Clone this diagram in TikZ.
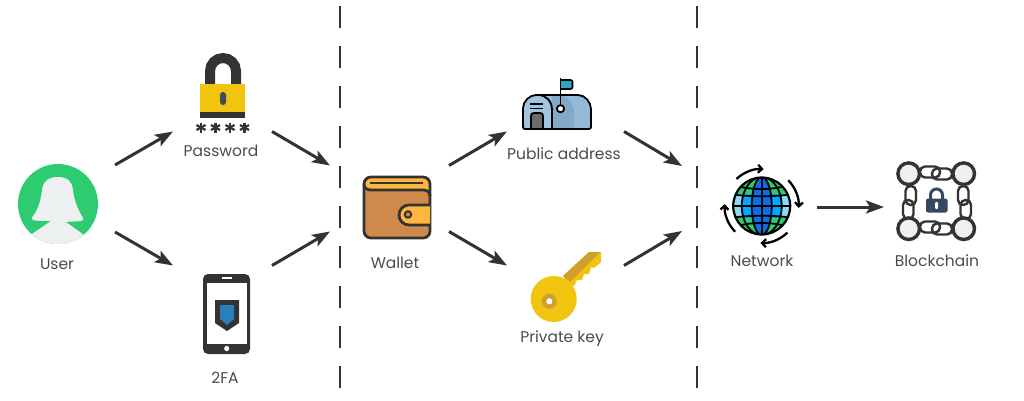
\documentclass[tikz,border=0pt]{standalone}
\usepackage{fontspec}
\setmainfont{Poppins}
\usetikzlibrary{arrows.meta}
\definecolor{ink}{HTML}{333333}
\definecolor{labelgrey}{HTML}{4A4A4A}
\definecolor{paleface}{HTML}{ECF0F1}
\definecolor{usergreen}{HTML}{2ECC71}
\definecolor{lockyellow}{HTML}{F1C40F}
\definecolor{keyhole}{HTML}{3D4A5C}
\definecolor{shieldblue}{HTML}{2980B9}
\definecolor{walletbrown}{HTML}{CF8A4B}
\definecolor{walletflap}{HTML}{FDB73E}
\definecolor{boxfront}{HTML}{9FC6DE}
\definecolor{boxside}{HTML}{93BAD6}
\definecolor{boxshade}{HTML}{84A9C6}
\definecolor{flagblue}{HTML}{2AA6C4}
\definecolor{keydark}{HTML}{CFA02E}
\definecolor{seablue}{HTML}{00A8FF}
\definecolor{deepblue}{HTML}{0A6EE8}
\definecolor{iceblue}{HTML}{8FD9F5}
\definecolor{chainblue}{HTML}{34495E}
\tikzset{
  flow/.style={line width=3pt,ink,-{Stealth[length=18pt,width=13pt,inset=4pt]}},
  divider/.style={line width=2pt,ink,dash pattern=on 22pt off 18pt},
  caption/.style={text=labelgrey,font=\fontsize{15.5}{17}\selectfont,inner sep=0pt},
  iconbox/.style={inner sep=0pt,outer sep=0pt,minimum width=#1},
  orbit/.style={line width=2.3pt,black,-{Straight Barb[length=4pt,width=8pt]}},
  link/.style={line width=2.4pt,ink,rounded corners=5pt},
}
\begin{document}
\begin{tikzpicture}[x=1pt,y=-1pt]
  \useasboundingbox (0,0) rectangle (1024,400);

  % Draw user
  \fill[usergreen] (58,204) circle (40pt);
  \begin{scope}
    \clip (58,204) circle (40pt);
    \fill[paleface] (51,221) .. controls (44,221) and (36,221) .. (33,220)
      .. controls (31,219) and (31,218) .. (33,216)
      .. controls (38,210) and (41,200) .. (42,190)
      .. controls (43,181) and (49,177) .. (58,177)
      .. controls (67,177) and (72,181) .. (73,190)
      .. controls (74,200) and (78,210) .. (82,216)
      .. controls (84,218) and (84,220) .. (81,221)
      .. controls (77,222) and (70,221) .. (66,222)
      -- (84,235) -- (84,250) -- (30,250) -- (32,234) -- cycle;
  \end{scope}

  % Draw lock
  \draw[line width=10pt,ink] (210,86) -- (210,71) arc[start angle=180,end angle=0,radius=13pt] -- (236,86);
  \fill[lockyellow] (200,84) rectangle (245,112);
  \fill[ink] (200,112) rectangle (245,118);
  \fill[keyhole,rounded corners=3pt] (220,92) rectangle (226,105);
  \foreach \x in {201,215.5,230,244.5}{
    \draw[line width=2.2pt,ink] (\x,122.5) -- (\x,132.5);
    \draw[line width=2.2pt,ink] (\x-4.5,125) -- (\x+4.5,130);
    \draw[line width=2.2pt,ink] (\x-4.5,130) -- (\x+4.5,125);
  }

  % Draw phone
  \fill[ink,rounded corners=5pt] (203,274) rectangle (250,354);
  \fill[white] (207,283) rectangle (247,344);
  \draw[white,line width=1.2pt] (222,278) -- (232,278);
  \fill[white] (226.7,348.5) circle (2.6pt);
  \fill[ink] (215,300) -- (239,300) -- (239,323) -- (227,331) -- (215,323) -- cycle;
  \fill[shieldblue] (220,305) -- (234,305) -- (234,319) -- (227,325) -- (220,319) -- cycle;

  % Draw wallet
  \fill[walletbrown,rounded corners=7pt] (364,177) rectangle (430,238);
  \fill[walletflap,rounded corners=6pt] (364,177) -- (430,177) -- (430,194) -- (364,194) -- cycle;
  \fill[walletbrown] (366,190) -- (424,190) .. controls (428,190) and (430,193) .. (430,197) -- (430,225) -- (366,225) -- cycle;
  \draw[line width=2.8pt,ink,rounded corners=7pt] (364,177) rectangle (430,238);
  \draw[line width=2.8pt,ink] (364,184) .. controls (364,188) and (367,190) .. (371,190) -- (423,190) .. controls (427,190) and (430,192) .. (430,196);
  \draw[line width=2.8pt,ink] (370,183) -- (423,183);
  \draw[line width=2.8pt,ink,fill=walletflap] (430,205) -- (409,205) arc[start angle=90,end angle=270,radius=10pt] -- (430,225);
  \draw[line width=2pt,ink,fill=walletbrown] (408,214.5) circle (3.2pt);

  % Draw mailbox
  \fill[boxside,rounded corners=2pt] (523,129) -- (523,110) .. controls (523,101) and (530,95) .. (538,95) -- (576,95)
    .. controls (585,95) and (591,102) .. (591,111) -- (591,129) -- cycle;
  \fill[boxshade] (552,129) -- (552,95) -- (562,95) .. controls (570,99) and (574,105) .. (574,113) -- (574,129) -- cycle;
  \fill[boxfront] (523,129) -- (523,110) .. controls (523,101) and (530,95) .. (538,95) .. controls (546,95) and (552,101) .. (552,110) -- (552,129) -- cycle;
  \fill[gray!85!black] (531,129) -- (531,116) .. controls (531,114) and (532,113) .. (534,113) -- (540,113) .. controls (542,113) and (543,114) .. (543,116) -- (543,129) -- cycle;
  \draw[line width=1.8pt,black,rounded corners=2pt] (523,129) -- (523,110) .. controls (523,101) and (530,95) .. (538,95) -- (576,95)
    .. controls (585,95) and (591,102) .. (591,111) -- (591,129) -- cycle;
  \draw[line width=1.8pt,black] (538,95) .. controls (546,95) and (552,101) .. (552,110) -- (552,129);
  \draw[line width=1.8pt,black] (531,129) -- (531,116) .. controls (531,114) and (532,113) .. (534,113) -- (540,113) .. controls (542,113) and (543,114) .. (543,116) -- (543,129);
  \draw[line width=1.6pt,black] (530,104) -- (543,104) (530,108.5) -- (543,108.5);
  \fill[flagblue,rounded corners=2pt] (560,80) -- (573,80) -- (573,89) -- (560,89) -- cycle;
  \draw[line width=1.6pt,black,rounded corners=2pt] (560.5,80) -- (572.5,80) -- (572.5,89) -- (560.5,89);
  \draw[line width=1.8pt,black] (560.5,78) -- (560.5,105);
  \draw[line width=1.8pt,black,fill=white] (560.5,108.7) circle (3.6pt);

  % Draw key
  \fill[lockyellow] (563,276) -- (589,252) -- (601,252) -- (601,262) -- (594,268) -- (591,267) -- (589,274) -- (584,274) -- (582,280) -- (577,280) -- (574,286) -- (567,284) -- cycle;
  \fill[keydark] (563,276) -- (589,252) -- (600,252) -- (570,282) -- cycle;
  \fill[lockyellow] (553.7,299) circle (23pt);
  \fill[keydark] (549.3,301.3) circle (7.5pt);
  \fill[white] (549.3,301.3) circle (3pt);

  % Draw globe
  \begin{scope}
    \clip (761.7,206) circle (28.5pt);
    \fill[usergreen] (732,176) rectangle (792,236);
    \fill[seablue] (732,194) rectangle (792,218);
    \fill[iceblue] (732,194) rectangle (742,218);
    \fill[iceblue] (782,194) rectangle (792,218);
    \fill[deepblue] (761.7,206) ellipse (10pt and 29pt);
    \draw[line width=1.8pt,black] (761.7,176) -- (761.7,236);
    \draw[line width=1.8pt,black] (761.7,206) ellipse (10pt and 29pt);
    \draw[line width=1.8pt,black] (761.7,206) ellipse (20pt and 29pt);
    \draw[line width=1.8pt,black] (732,206) -- (792,206);
    \draw[line width=1.8pt,black] (732,194) .. controls (745,197) and (778,197) .. (792,194);
    \draw[line width=1.8pt,black] (732,218) .. controls (745,215) and (778,215) .. (792,218);
    \draw[line width=1.8pt,black] (738,186) .. controls (750,190) and (773,190) .. (785,186);
    \draw[line width=1.8pt,black] (738,226) .. controls (750,222) and (773,222) .. (785,226);
  \end{scope}
  \draw[line width=2.2pt,black] (761.7,206) circle (28.5pt);
  \draw[orbit] (761.7,206) ++(133:37pt) arc[start angle=133,end angle=87,radius=37pt];
  \draw[orbit] (761.7,206) ++(44:37pt) arc[start angle=44,end angle=-3,radius=37pt];
  \draw[orbit] (761.7,206) ++(-46:37pt) arc[start angle=-46,end angle=-92,radius=37pt];
  \draw[orbit] (761.7,206) ++(224:37pt) arc[start angle=224,end angle=177,radius=37pt];

  % Draw chain
  \draw[link] (920,166.5) rectangle (940,177.5);
  \draw[link] (932,168.5) rectangle (952,179.5);
  \draw[link] (920,221.5) rectangle (940,232.5);
  \draw[link] (932,223.5) rectangle (952,234.5);
  \draw[link] (905.5,186) rectangle (916,205);
  \draw[link] (903,200) rectangle (913.5,219);
  \draw[link] (958,186) rectangle (968.5,205);
  \draw[link] (960.5,200) rectangle (971,219);
  \foreach \x in {908.7,963.7}{
    \foreach \y in {173.7,228.7}{
      \draw[line width=3.4pt,ink,fill=paleface] (\x,\y) circle (10.8pt);
    }
  }
  \draw[line width=3pt,chainblue] (930.5,199) -- (930.5,195) arc[start angle=180,end angle=0,radius=6pt] -- (942.5,199);
  \fill[chainblue,rounded corners=2pt] (926,198.5) rectangle (947.5,212.5);
  \fill[white,rounded corners=1pt] (935.2,202) rectangle (938.2,209);

  % Draw separators
  \draw[divider] (340,6) -- (340,388);
  \draw[divider] (697,6) -- (697,388);

  % Boxes that the arrows leave from and reach
  \node[iconbox=115pt,minimum height=67pt] (user) at (57.5,198.5) {};
  \node[iconbox=99pt,minimum height=77pt] (password) at (222.5,93) {};
  \node[iconbox=99pt,minimum height=89pt] (twofa) at (222.5,310) {};
  \node[iconbox=119pt,minimum height=66pt] (wallet) at (389.5,198.5) {};
  \node[iconbox=117pt,minimum height=77pt] (public) at (565.5,93) {};
  \node[iconbox=117pt,minimum height=89pt] (private) at (565.5,310) {};
  \node[iconbox=135pt,minimum height=65pt] (networkin) at (749.5,198.5) {};
  \node[iconbox=110pt,minimum height=82pt] (network) at (762,207) {};
  \node[iconbox=104pt,minimum height=82pt] (blockchain) at (936,207) {};

  % Draw arrows
  \draw[flow] (user.north east) -- (password.south west);
  \draw[flow] (user.south east) -- (twofa.north west);
  \draw[flow] (password.south east) -- (wallet.north west);
  \draw[flow] (twofa.north east) -- (wallet.south west);
  \draw[flow] (wallet.north east) -- (public.south west);
  \draw[flow] (wallet.south east) -- (private.north west);
  \draw[flow] (public.south east) -- (networkin.north west);
  \draw[flow] (private.north east) -- (networkin.south west);
  \draw[flow] (network.east) -- (blockchain.west);

  % Draw labels
  \node[caption] (userlabel) at (57,264.5) {User};
  \node[caption] (passwordlabel) at (221,150.5) {Password};
  \node[caption] (twofalabel) at (225,377.5) {2FA};
  \node[caption] (walletlabel) at (395,262.5) {Wallet};
  \node[caption] (publiclabel) at (564,153.5) {Public address};
  \node[caption] (privatelabel) at (562,338.5) {Private key};
  \node[caption] (networklabel) at (762,260.5) {Network};
  \node[caption] (blockchainlabel) at (937,260.5) {Blockchain};
\end{tikzpicture}
\end{document}
